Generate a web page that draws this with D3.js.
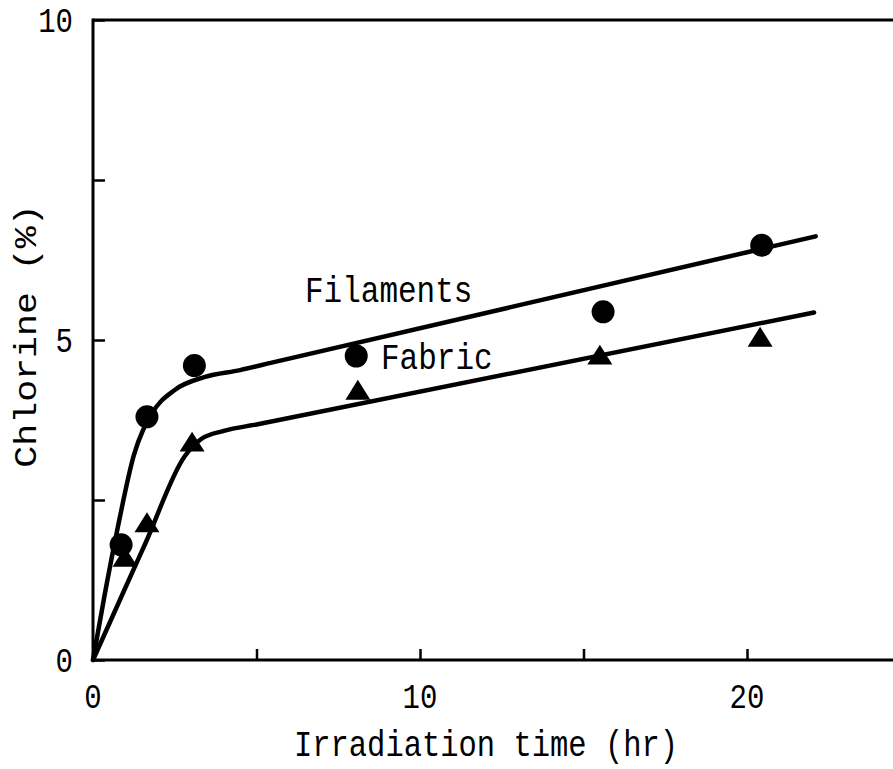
<!DOCTYPE html>
<html>
<head>
<meta charset="utf-8">
<script src="https://cdn.jsdelivr.net/npm/d3@7"></script>
<style>
  html, body { margin: 0; padding: 0; background: #fff; }
  svg { display: block; }
  text { font-family: "Courier New", Courier, "Liberation Mono", monospace; fill: #000; }
</style>
</head>
<body>
<svg id="chart" width="893" height="769"></svg>
<script>
// ---- data ----
const xTicks = [0, 5, 10, 15, 20];
const xTickLabels = ["0", "", "10", "", "20"];
const yTicks = [0, 2.5, 5, 7.5, 10];
const yTickLabels = ["0", "", "5", "", "10"];

const filamentsX = [0.86, 1.65, 3.1, 8.05, 15.6, 20.45];
const filamentsY = [1.8, 3.8, 4.6, 4.75, 5.44, 6.48];
const fabricX = [0.98, 1.65, 3.03, 8.1, 15.5, 20.4];
const fabricY = [1.56, 2.1, 3.36, 4.17, 4.72, 5.0];

const filamentsCurveX = [0, 0.35, 0.75, 1.25, 1.8, 2.5, 3.4, 4.5, 5.5, 22.1];
const filamentsCurveY = [0, 1.0, 2.05, 3.2, 3.85, 4.22, 4.42, 4.53, 4.65, 6.62];
const fabricCurveX = [0, 1.0, 1.6, 2.8, 3.3, 4.0, 5.0, 22.05];
const fabricCurveY = [0, 1.14, 1.82, 3.18, 3.45, 3.58, 3.68, 5.43];

const xLabel = "Irradiation time (hr)";
const yLabel = "Chlorine (%)";
const seriesLabels = ["Filaments", "Fabric"];

// ---- drawing ----
const W = 893, H = 769;
const svg = d3.select("#chart");
const x = d3.scaleLinear().domain([0, 20]).range([93, 747]);
const y = d3.scaleLinear().domain([0, 10]).range([660, 20]);
const sy = 1.2; // vertical stretch of text in the scan

// frame lines: left, bottom, top
svg.append("line").attr("x1", x(0)).attr("x2", x(0)).attr("y1", y(10) - 1.5).attr("y2", y(0) + 1.5)
  .attr("stroke", "#000").attr("stroke-width", 3);
svg.append("line").attr("x1", x(0)).attr("x2", W).attr("y1", y(0)).attr("y2", y(0))
  .attr("stroke", "#000").attr("stroke-width", 3);
svg.append("line").attr("x1", x(0)).attr("x2", W).attr("y1", y(10)).attr("y2", y(10))
  .attr("stroke", "#000").attr("stroke-width", 3);

// x axis ticks (inward)
const xAxis = d3.axisBottom(x).tickValues(xTicks).tickSize(-11).tickPadding(0)
  .tickFormat(() => "");
const gx = svg.append("g").attr("transform", `translate(0,${y(0)})`).call(xAxis);
gx.select(".domain").remove();
gx.selectAll(".tick line").attr("stroke", "#000").attr("stroke-width", 2.5);
xTicks.forEach((t, i) => {
  if (!xTickLabels[i]) return;
  svg.append("text")
    .attr("transform", `translate(${x(t)},${y(0) + 48}) scale(1,${sy})`)
    .attr("text-anchor", "middle").attr("font-size", 29).text(xTickLabels[i]);
});

// y axis ticks (inward)
const yAxis = d3.axisLeft(y).tickValues(yTicks).tickSize(-12).tickPadding(0)
  .tickFormat(() => "");
const gy = svg.append("g").attr("transform", `translate(${x(0)},0)`).call(yAxis);
gy.select(".domain").remove();
gy.selectAll(".tick line").attr("stroke", "#000").attr("stroke-width", 2.5);
yTicks.forEach((t, i) => {
  if (!yTickLabels[i]) return;
  svg.append("text")
    .attr("transform", `translate(73,${y(t) + 12}) scale(1,${sy})`)
    .attr("text-anchor", "end").attr("font-size", 29).text(yTickLabels[i]);
});

// axis titles
svg.append("text")
  .attr("transform", `translate(486,756) scale(1,${sy})`)
  .attr("text-anchor", "middle").attr("font-size", 30.5).text(xLabel);
svg.append("text")
  .attr("transform", `translate(36,336) scale(1,${sy}) rotate(-90)`)
  .attr("text-anchor", "middle").attr("font-size", 30.5).text(yLabel);

// curves
const line = d3.line().x(d => x(d[0])).y(d => y(d[1])).curve(d3.curveMonotoneX);
svg.append("path").datum(filamentsCurveX.map((v, i) => [v, filamentsCurveY[i]]))
  .attr("d", line).attr("fill", "none").attr("stroke", "#000").attr("stroke-width", 4.5)
  .attr("stroke-linecap", "round");
svg.append("path").datum(fabricCurveX.map((v, i) => [v, fabricCurveY[i]]))
  .attr("d", line).attr("fill", "none").attr("stroke", "#000").attr("stroke-width", 4.5)
  .attr("stroke-linecap", "round");

// markers
svg.selectAll("circle.fil").data(filamentsX.map((v, i) => [v, filamentsY[i]]))
  .enter().append("circle").attr("class", "fil")
  .attr("cx", d => x(d[0])).attr("cy", d => y(d[1])).attr("r", 11.5).attr("fill", "#000");

const tri = d3.symbol().type(d3.symbolTriangle).size(270);
svg.selectAll("path.fab").data(fabricX.map((v, i) => [v, fabricY[i]]))
  .enter().append("path").attr("class", "fab")
  .attr("transform", d => `translate(${x(d[0])},${y(d[1])}) scale(1,0.92)`)
  .attr("d", tri).attr("fill", "#000");

// series labels
svg.append("text").attr("transform", `translate(305,302) scale(1,${sy})`)
  .attr("font-size", 31).text(seriesLabels[0]);
svg.append("text").attr("transform", `translate(381,369) scale(1,${sy})`)
  .attr("font-size", 31).text(seriesLabels[1]);
</script>
</body>
</html>
